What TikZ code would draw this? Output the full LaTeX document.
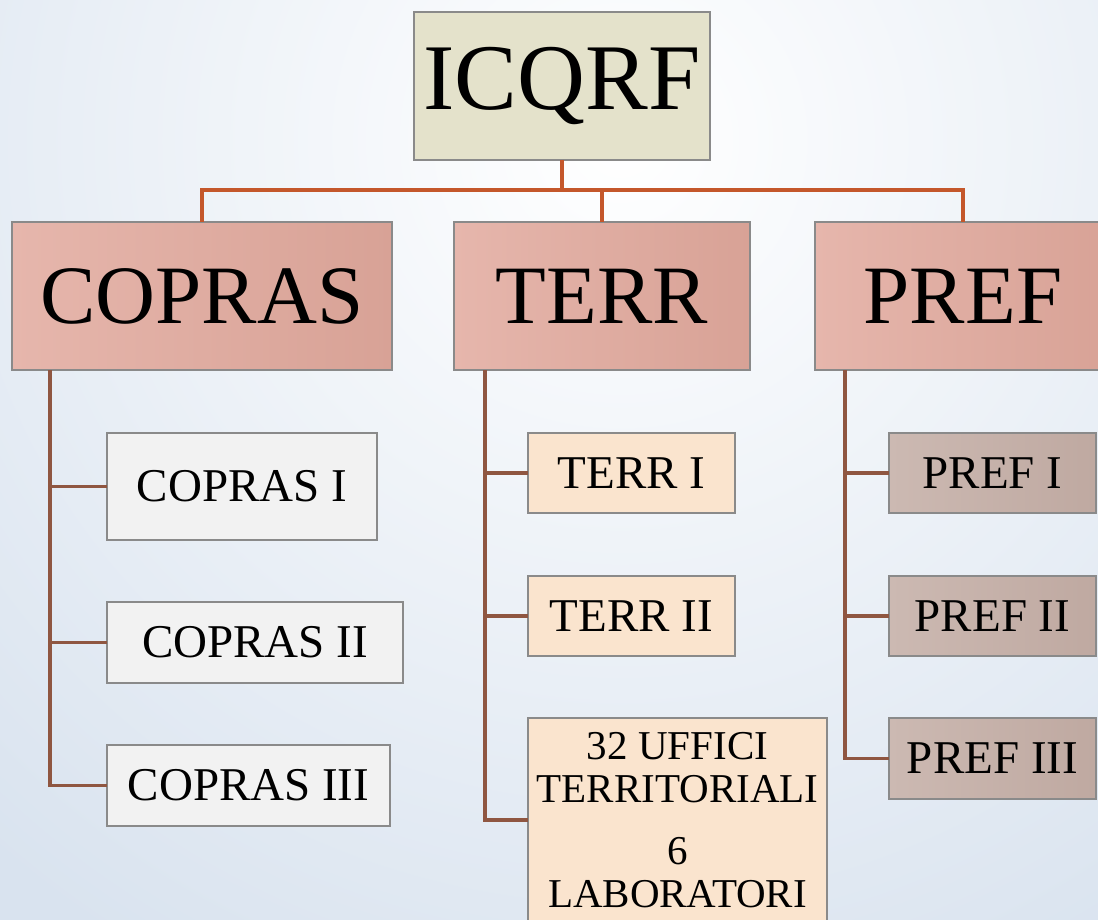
\documentclass[tikz,border=0pt]{standalone}
\usepackage{fontspec}
\setmainfont{Liberation Serif}
\usepackage{xcolor}
\definecolor{bgblue}{HTML}{D9E3EF}
\definecolor{rootfill}{HTML}{E4E2CB}
\definecolor{headlight}{HTML}{E6B6AC}
\definecolor{headdark}{HTML}{D8A296}
\definecolor{coprasfill}{HTML}{F2F2F2}
\definecolor{terrfill}{HTML}{FAE4CE}
\definecolor{preflight}{HTML}{CCB9B2}
\definecolor{prefdark}{HTML}{BFA9A1}
\definecolor{busline}{HTML}{C4572B}
\definecolor{branchline}{HTML}{8F5641}
\definecolor{boxborder}{HTML}{8A8A8A}
\tikzset{
    unitbox/.style={draw=boxborder, line width=1.3pt, inner sep=0pt, outer sep=0pt, align=center, text=black},
    rootbox/.style={unitbox, fill=rootfill, minimum width=296pt, minimum height=148pt, font=\fontsize{94}{94}\selectfont},
    headbox/.style={unitbox, shading=axis, shading angle=60, left color=headlight, right color=headdark, minimum height=148pt, font=\fontsize{83}{83}\selectfont},
    coprasbox/.style={unitbox, fill=coprasfill, font=\fontsize{47}{47}\selectfont},
    terrbox/.style={unitbox, fill=terrfill, font=\fontsize{47}{47}\selectfont},
    prefbox/.style={unitbox, left color=preflight, right color=prefdark, font=\fontsize{47}{47}\selectfont},
    busconn/.style={draw=busline, line width=3.2pt},
    branchconn/.style={draw=branchline, line width=3.2pt}
}

\begin{document}
\begin{tikzpicture}[x=1pt, y=-1pt]
    \useasboundingbox (0,0) rectangle (1098,920);
    \clip (0,0) rectangle (1098,920);
    % background
    \fill[bgblue] (0,0) rectangle (1098,920);
    \shade[inner color=white, outer color=bgblue] (620,140) circle (950);
    % top levels
    \node[rootbox] (icqrf) at (562,86) {ICQRF};
    \node[headbox, minimum width=380pt] (copras) at (202,296) {COPRAS};
    \node[headbox, minimum width=296pt] (terr) at (602,296) {TERR};
    \node[headbox, minimum width=296pt] (pref) at (963,296) {PREF};
    \coordinate (bus) at (562,190);
    \draw[busconn] (icqrf.south) -- (bus);
    \draw[busconn] (copras.north) |- (bus) -| (pref.north);
    \draw[busconn] (terr.north) -- (terr.north |- bus);
    % COPRAS offices
    \node[coprasbox, minimum width=270pt, minimum height=107pt] (copras1) at (242,486.5) {COPRAS I};
    \node[coprasbox, minimum width=296pt, minimum height=81pt] (copras2) at (255,642.5) {COPRAS II};
    \node[coprasbox, minimum width=283pt, minimum height=81pt] (copras3) at (248.5,785.5) {COPRAS III};
    \coordinate (cspine) at (50,370);
    \draw[branchconn] (cspine) |- (copras3.west);
    \draw[branchconn] (copras1.west) -- (copras1.west -| cspine);
    \draw[branchconn] (copras2.west) -- (copras2.west -| cspine);
    % TERR offices
    \node[terrbox, minimum width=207pt, minimum height=80pt] (terr1) at (631.5,473) {TERR I};
    \node[terrbox, minimum width=207pt, minimum height=80pt] (terr2) at (631.5,616) {TERR II};
    \node[terrbox, minimum width=299pt, minimum height=204pt, anchor=north,
          font=\fontsize{41}{43}\selectfont] (terr3) at (677.5,718)
          {32 UFFICI\\TERRITORIALI\\[19pt]6\\LABORATORI};
    \coordinate (tspine) at (485,370);
    \draw[branchconn] (tspine) |- (terr3.west);
    \draw[branchconn] (terr1.west) -- (terr1.west -| tspine);
    \draw[branchconn] (terr2.west) -- (terr2.west -| tspine);
    % PREF offices
    \node[prefbox, minimum width=207pt, minimum height=80pt] (pref1) at (992.5,473) {PREF I};
    \node[prefbox, minimum width=207pt, minimum height=80pt] (pref2) at (992.5,616) {PREF II};
    \node[prefbox, minimum width=207pt, minimum height=81pt] (pref3) at (992.5,758.5) {PREF III};
    \coordinate (pspine) at (845,370);
    \draw[branchconn] (pspine) |- (pref3.west);
    \draw[branchconn] (pref1.west) -- (pref1.west -| pspine);
    \draw[branchconn] (pref2.west) -- (pref2.west -| pspine);
\end{tikzpicture}
\end{document}
